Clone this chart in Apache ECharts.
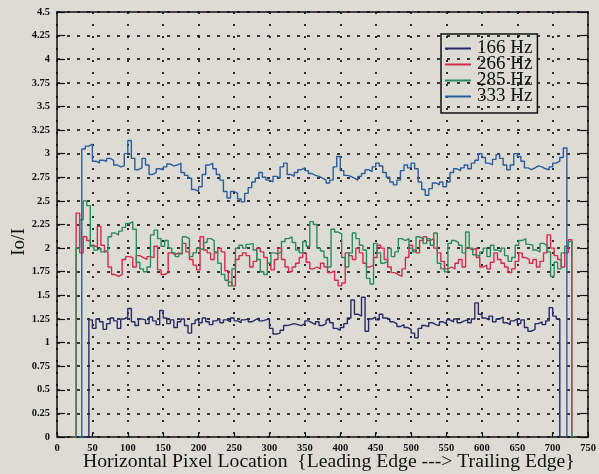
<!DOCTYPE html>
<html>
<head>
<meta charset="utf-8">
<script src="https://cdn.jsdelivr.net/npm/echarts@6/dist/echarts.min.js"></script>
<style>
html,body{margin:0;padding:0;background:#dddcd4;}
#chart{width:599px;height:474px;}
</style>
</head>
<body>
<div id="chart"></div>
<script>
// Series names
const seriesNames = ['166 Hz', '266 Hz', '285 Hz', '333 Hz'];

// Sampling: each series starts at its own x, then steps of 5 pixel units
const stepX = 5;
const start166 = 40;
const start266 = 22;
const start285 = 22;
const start333 = 30;

// 166 Hz (x = 40 .. 710)
const vals166 = [0,
1.24,1.15,1.25,1.22,1.14,1.2,1.26,1.23,1.15,1.25,1.27,1.36,1.22,1.18,1.25,1.24,1.2,1.27,1.23,1.19,
1.34,1.26,1.2,1.24,1.16,1.22,1.25,1.18,1.1,1.2,1.24,1.21,1.26,1.22,1.19,1.23,1.25,1.21,1.24,1.22,
1.26,1.23,1.21,1.24,1.25,1.22,1.24,1.26,1.23,1.24,1.25,1.15,1.09,1.1,1.13,1.18,1.19,1.2,1.19,1.18,
1.2,1.23,1.21,1.19,1.22,1.18,1.2,1.24,1.21,1.15,1.13,1.16,1.2,1.26,1.45,1.3,1.28,1.48,1.12,1.25,
1.27,1.24,1.3,1.26,1.25,1.22,1.2,1.17,1.19,1.16,1.14,1.1,1.05,1.15,1.18,1.17,1.21,1.19,1.18,1.22,
1.2,1.24,1.22,1.25,1.21,1.23,1.24,1.21,1.25,1.42,1.3,1.26,1.24,1.28,1.22,1.25,1.27,1.21,1.19,1.23,
1.25,1.2,1.24,1.16,1.12,1.14,1.2,1.22,1.19,1.23,1.37,1.28,1.25,
0];

// 266 Hz (x = 22 .. 727)
const vals266 = [0,
2.37,1.95,2.12,2.08,2.03,2.01,2.23,2.03,1.96,1.8,1.72,1.7,1.72,1.88,1.91,1.9,1.8,1.92,1.9,1.88,
1.91,1.9,2.02,1.77,1.72,1.74,1.95,1.93,1.95,1.94,2.05,1.96,1.88,1.82,1.77,2.12,1.98,1.95,1.88,1.95,
2.0,1.96,1.76,1.64,1.6,1.88,1.92,1.95,1.92,1.8,1.86,2.0,1.96,1.9,1.84,1.77,1.88,2.0,1.88,1.8,
1.75,1.8,1.84,1.9,1.95,1.85,1.78,1.8,1.78,1.84,1.8,1.74,1.76,1.66,1.6,1.63,1.95,1.92,1.88,2.0,
1.95,1.84,1.8,1.82,1.9,2.03,2.0,1.88,1.8,1.74,1.72,1.7,1.78,1.9,2.03,1.98,1.95,2.08,2.12,2.08,
2.1,2.0,1.95,1.86,1.78,1.8,1.78,1.84,1.88,1.8,2.0,1.98,2.0,1.9,1.8,1.82,1.78,1.85,1.95,1.88,
1.84,1.8,1.74,1.78,1.86,1.95,1.9,1.88,1.84,1.88,1.8,1.86,1.95,2.14,2.0,1.92,1.88,1.8,1.95,2.09,
0];

// 285 Hz (x = 22 .. 727)
const vals285 = [0,
2.0,2.3,2.5,2.45,2.02,1.98,2.0,1.96,1.98,2.12,2.16,2.14,2.18,2.22,2.26,2.28,2.2,1.85,1.78,1.75,
1.8,2.14,2.19,2.1,2.02,2.08,2.0,1.95,1.91,1.94,2.12,2.1,1.91,1.95,2.0,1.98,2.06,2.1,2.08,1.96,
1.84,1.72,1.66,1.6,1.78,2.0,2.03,2.0,2.04,2.05,1.98,1.88,1.75,1.72,1.84,1.95,1.94,1.96,2.07,2.1,
2.12,2.06,1.98,1.95,2.07,2.02,2.28,2.25,2.0,1.97,1.9,1.8,2.2,2.17,2.15,1.9,1.8,1.95,2.16,2.1,
2.03,1.98,1.68,1.62,2.05,1.95,1.84,1.86,2.0,1.91,1.96,2.1,2.08,2.1,2.0,1.96,2.12,2.1,2.05,2.1,
2.03,2.16,1.84,1.78,1.75,2.05,2.08,2.06,2.03,1.95,2.17,2.0,1.93,1.91,1.96,2.0,1.91,2.03,1.98,1.96,
2.0,1.92,1.86,1.9,2.03,2.08,2.1,2.04,2.03,1.98,1.96,2.05,2.03,1.96,1.7,1.85,1.78,1.95,2.02,2.07,
0];

// 333 Hz (x = 30 .. 720)
const vals333 = [0,
3.05,3.08,3.1,2.92,2.9,2.93,2.92,2.95,2.93,2.88,2.86,2.87,3.0,3.14,2.95,2.83,2.85,2.95,2.88,2.78,
2.8,2.84,2.83,2.86,2.89,2.87,2.88,2.9,2.8,2.77,2.74,2.62,2.6,2.65,2.78,2.88,2.9,2.84,2.78,2.72,
2.6,2.53,2.6,2.58,2.52,2.49,2.58,2.64,2.7,2.74,2.8,2.75,2.72,2.7,2.76,2.74,2.86,2.9,2.78,2.76,
2.8,2.83,2.85,2.82,2.79,2.77,2.76,2.74,2.72,2.69,2.72,2.86,2.97,2.82,2.77,2.76,2.74,2.72,2.76,2.79,
2.83,2.81,2.86,2.9,2.87,2.8,2.75,2.7,2.67,2.72,2.82,2.88,2.85,2.9,2.84,2.7,2.62,2.56,2.63,2.69,
2.67,2.7,2.65,2.7,2.8,2.84,2.82,2.85,2.88,2.84,2.9,2.93,3.0,2.96,2.9,2.88,2.94,2.99,2.95,2.88,
2.83,2.88,3.0,2.97,2.92,2.85,2.83,2.85,2.87,2.86,2.84,2.83,2.86,2.9,2.92,2.96,3.06,
0];

// Axis tick settings
const xMin = 0, xMax = 750, xInterval = 50;
const yMin = 0, yMax = 4.5, yInterval = 0.25;

const colors = ['#2b2a66', '#d52a4e', '#2c8a5c', '#2d5c9e'];

function toPairs(start, vals) {
  return vals.map((v, i) => [start + i * stepX, v]);
}

const chart = echarts.init(document.getElementById('chart'), null, {renderer: 'canvas'});
const serifFont = '"Liberation Serif", "DejaVu Serif", serif';

const labelStyle = {fontFamily: serifFont, fontSize: 10.5, fontWeight: 'bold', color: '#111'};

const option = {
  backgroundColor: '#dddcd4',
  animation: false,
  grid: {left: 57, right: 8, top: 12, bottom: 37, containLabel: false},
  legend: {
    orient: 'vertical',
    left: 441,
    top: 34,
    padding: [5, 5, 7, 4],
    itemGap: -3,
    itemWidth: 26,
    itemHeight: 2,
    icon: 'rect',
    borderColor: '#111',
    borderWidth: 1.5,
    backgroundColor: 'transparent',
    textStyle: {fontFamily: serifFont, fontSize: 19, color: '#111', padding: [0, 0, 0, 1]},
    data: seriesNames
  },
  xAxis: [{
    type: 'value', min: xMin, max: xMax, interval: xInterval,
    axisLine: {show: true, lineStyle: {color: '#111', width: 1.5}},
    axisTick: {show: true, inside: true, length: 4, lineStyle: {color: '#111', width: 1.2}},
    axisLabel: Object.assign({margin: 6}, labelStyle),
    splitLine: {show: true, lineStyle: {color: '#000', width: 1.6, type: [2, 10]}}
  }, {
    type: 'value', min: xMin, max: xMax, interval: xInterval, position: 'top',
    axisLine: {show: true, onZero: false, lineStyle: {color: '#111', width: 1.5}},
    axisTick: {show: false}, axisLabel: {show: false}, splitLine: {show: false}
  }],
  yAxis: [{
    type: 'value', min: yMin, max: yMax, interval: yInterval,
    axisLine: {show: true, lineStyle: {color: '#111', width: 1.5}},
    axisTick: {show: true, inside: true, length: 8, lineStyle: {color: '#111', width: 1.2}},
    axisLabel: Object.assign({margin: 7}, labelStyle),
    splitLine: {show: true, lineStyle: {color: '#000', width: 1.7, type: [3, 7]}}
  }, {
    type: 'value', min: yMin, max: yMax, interval: yInterval, position: 'right',
    axisLine: {show: true, onZero: false, lineStyle: {color: '#111', width: 1.5}},
    axisTick: {show: true, inside: true, length: 8, lineStyle: {color: '#111', width: 1.2}},
    axisLabel: {show: false}, splitLine: {show: false}
  }],
  graphic: [{
    type: 'text', left: 83, top: 452,
    style: {text: 'Horizontal Pixel Location  {Leading Edge ---> Trailing Edge}', font: '19.7px ' + serifFont, fill: '#111'}
  }, {
    type: 'text', rotation: Math.PI / 2, x: 19, y: 242,
    style: {text: 'Io/I', font: '19px ' + serifFont, fill: '#111', textAlign: 'center', textVerticalAlign: 'middle'}
  }],
  series: [
    {name: seriesNames[0], type: 'line', step: 'end', showSymbol: false, data: toPairs(start166, vals166),
     lineStyle: {color: colors[0], width: 1.4}, itemStyle: {color: colors[0]}},
    {name: seriesNames[1], type: 'line', step: 'end', showSymbol: false, data: toPairs(start266, vals266),
     lineStyle: {color: colors[1], width: 1.4}, itemStyle: {color: colors[1]}},
    {name: seriesNames[2], type: 'line', step: 'end', showSymbol: false, data: toPairs(start285, vals285),
     lineStyle: {color: colors[2], width: 1.4}, itemStyle: {color: colors[2]}},
    {name: seriesNames[3], type: 'line', step: 'end', showSymbol: false, data: toPairs(start333, vals333),
     lineStyle: {color: colors[3], width: 1.4}, itemStyle: {color: colors[3]}}
  ]
};
chart.setOption(option);
</script>
</body>
</html>
